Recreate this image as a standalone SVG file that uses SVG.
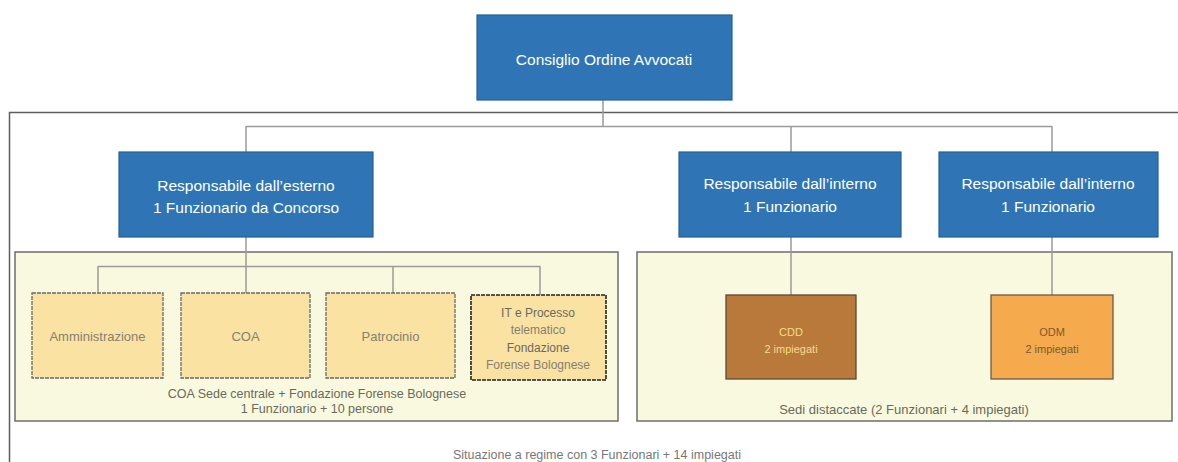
<svg xmlns="http://www.w3.org/2000/svg" width="1178" height="462" viewBox="0 0 1178 462">
<style>
text{font-family:"Liberation Sans",Arial,sans-serif;text-anchor:middle}
.blue{fill:#2f75b6;stroke:#255f95;stroke-width:1.2}
.wt{fill:#ffffff;font-size:15.5px}
.cont{fill:#f9f9df;stroke:#6e6e6e;stroke-width:1.5}
.ybox{fill:#fae3a2;stroke:#6a6a6a;stroke-width:1.3;stroke-dasharray:4 1}
.yt{fill:#858070;font-size:13px}
.cap{fill:#6a6a5a;font-size:12.5px}
.conn{fill:none;stroke:#9a9a9a;stroke-width:1.5}
.frame{fill:none;stroke:#5e5e5e;stroke-width:1.5}
</style>
<rect width="1178" height="462" fill="#ffffff"/>
<path class="frame" d="M1178 112.5H9.5V462"/>
<g id="cont-left"><rect class="cont" x="15" y="252" width="603" height="169"/>
<text class="cap" x="317" y="398">COA Sede centrale + Fondazione Forense Bolognese</text>
<text class="cap" x="317" y="413">1 Funzionario + 10 persone</text></g>
<g id="cont-right"><rect class="cont" x="637" y="252" width="535" height="169"/>
<text class="cap" x="904" y="414" style="font-size:13px">Sedi distaccate (2 Funzionari + 4 impiegati)</text></g>
<g id="connectors">
<path class="conn" d="M603 100V126.5M246 126.5H1052M246 126V152M791 126V152M1052 126V152"/>
<path class="conn" d="M246 237V293M791 237V295M1052 237V295"/>
<path class="conn" d="M98 266.5H540M98 266V293M393 266V293M540 266V295"/>
</g>
<g id="n-consiglio"><rect class="blue" x="477" y="15" width="255" height="85"/>
<text class="wt" x="604" y="65">Consiglio Ordine Avvocati</text></g>
<g id="n-esterno"><rect class="blue" x="119" y="152" width="254" height="85"/>
<text class="wt" x="246" y="191">Responsabile dall’esterno</text>
<text class="wt" x="246" y="213">1 Funzionario da Concorso</text></g>
<g id="n-interno1"><rect class="blue" x="679" y="152" width="222" height="85"/>
<text class="wt" x="790" y="189">Responsabile dall’interno</text>
<text class="wt" x="790" y="212">1 Funzionario</text></g>
<g id="n-interno2"><rect class="blue" x="939" y="152" width="219" height="85"/>
<text class="wt" x="1048" y="189">Responsabile dall’interno</text>
<text class="wt" x="1048" y="212">1 Funzionario</text></g>
<g id="n-amm"><rect class="ybox" x="32" y="293" width="131" height="85"/>
<text class="yt" x="97.5" y="341">Amministrazione</text></g>
<g id="n-coa"><rect class="ybox" x="181" y="293" width="129" height="85"/>
<text class="yt" x="245.5" y="341">COA</text></g>
<g id="n-patrocinio"><rect class="ybox" x="326" y="293" width="129" height="85"/>
<text class="yt" x="390.5" y="341">Patrocinio</text></g>
<g id="n-it"><rect class="ybox" x="471" y="295" width="135" height="85" style="stroke:#222;stroke-width:1.6"/>
<text class="yt" x="538" y="317" style="font-size:12px;fill:#6a6a60">IT e Processo</text>
<text class="yt" x="538" y="334" style="font-size:12px">telematico</text>
<text class="yt" x="538" y="352" style="font-size:12px;fill:#6a6a60">Fondazione</text>
<text class="yt" x="538" y="369" style="font-size:12px">Forense Bolognese</text></g>
<g id="n-cdd"><rect x="726" y="295" width="130" height="84" fill="#b9793b" stroke="#5a4a3a" stroke-width="1.3"/>
<text x="791" y="336" style="font-size:11px;fill:#f3dc8a">CDD</text>
<text x="791" y="353" style="font-size:11px;fill:#f3dc8a">2 impiegati</text></g>
<g id="n-odm"><rect x="991" y="295" width="122" height="84" fill="#f5aa4d" stroke="#6a5a4a" stroke-width="1.3"/>
<text x="1052" y="336" style="font-size:11px;fill:#7a5a30">ODM</text>
<text x="1052" y="353" style="font-size:11px;fill:#7a5a30">2 impiegati</text></g>
<text class="cap" x="597" y="458.5" style="font-size:12.5px;fill:#777">Situazione a regime con 3 Funzionari + 14 impiegati</text>
</svg>
